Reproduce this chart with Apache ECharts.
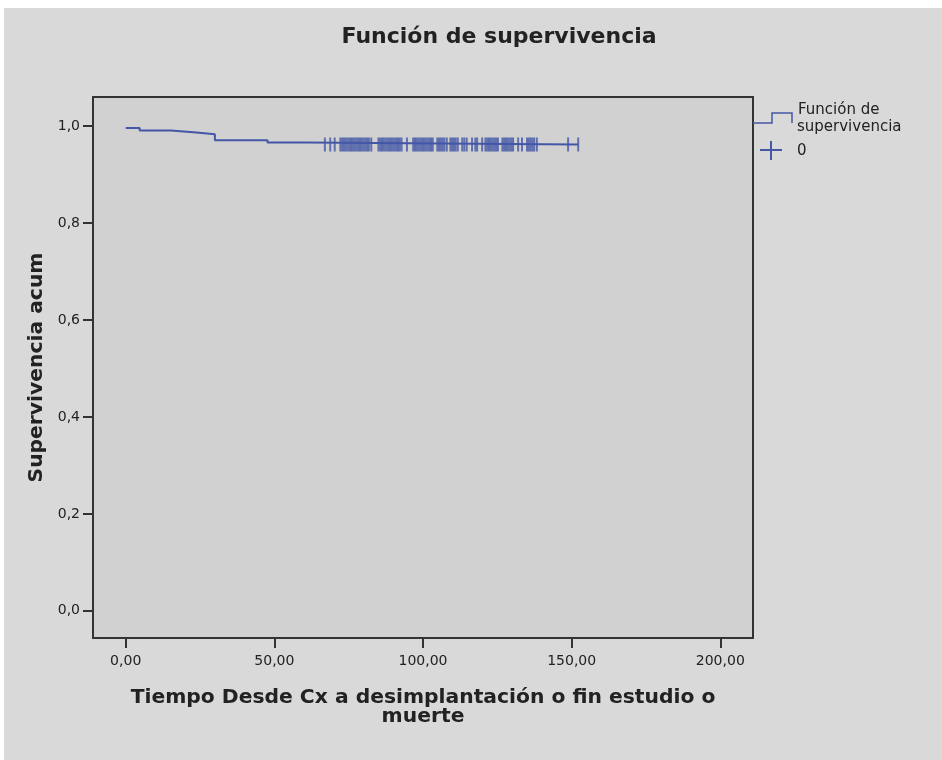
<!DOCTYPE html>
<html>
<head>
<meta charset="utf-8">
<script src="https://cdn.jsdelivr.net/npm/echarts@6/dist/echarts.min.js"></script>
<style>
html,body{margin:0;padding:0;background:#fff;}
#bg{position:absolute;left:4px;top:8px;width:938px;height:752px;background:#d9d9d9;}
#chart{position:absolute;left:0;top:0;width:942px;height:760px;}
</style>
</head>
<body>
<div id="bg"></div>
<div id="chart"></div>
<script>
// Kaplan-Meier step curve: event times and survival after each step
const stepTimes = [0, 4.7, 15.2, 23.8, 30.0, 47.7, 60.8, 152.2];
const stepSurv  = [0.996, 0.991, 0.987, 0.983, 0.971, 0.966, 0.962, 0.962];
// censored observations (times)
const censorTimes = [67.0, 68.8, 70.3,
  72.2, 72.8, 73.4, 74.0, 74.6, 75.2, 75.8, 76.4, 77.0, 77.6, 78.2, 78.8, 79.4, 80.0, 80.6, 81.2, 81.8, 82.6,
  85.0, 85.6, 86.2, 86.8, 87.4, 88.0, 88.6, 89.2, 89.8, 90.4, 91.0, 91.6, 92.2, 92.8,
  94.6,
  96.7, 97.3, 97.9, 98.5, 99.1, 99.7, 100.3, 100.9, 101.5, 102.1, 102.7, 103.3,
  104.8, 105.4, 106.0, 106.6, 107.2, 108.0,
  109.2, 109.8, 110.4, 111.0, 111.7,
  113.2, 113.9, 114.7,
  116.5,
  117.6, 118.2,
  119.9,
  121.0, 121.6, 122.2, 122.8, 123.4, 124.0, 124.6, 125.2,
  126.7, 127.3, 127.9, 128.5, 129.1, 129.7, 130.3,
  132.0,
  133.3,
  135.0, 135.6, 136.2, 136.8, 137.4, 138.3,
  148.8, 152.2];
const censorSurv = 0.962;
const xTicks = [0, 50, 100, 150, 200];
const yTicks = [0, 0.2, 0.4, 0.6, 0.8, 1.0];

const lineColor = '#4457a6';
const chart = echarts.init(document.getElementById('chart'));
const lineData = stepTimes.map((t, i) => [t, stepSurv[i]]);
const censorData = censorTimes.map(t => [t, censorSurv]);

chart.setOption({
  backgroundColor: 'transparent',
  animation: false,
  grid: {left: 93, right: 189, top: 97, bottom: 122, show: true,
    backgroundColor: '#d1d1d1', borderColor: '#333', borderWidth: 2},
  xAxis: {
    type: 'value', min: -11, max: 211,
    axisLine: {show: false, onZero: false},
    splitLine: {show: false},
    axisTick: {show: true, length: 10, customValues: xTicks, lineStyle: {color: '#333', width: 2}},
    axisLabel: {customValues: xTicks, margin: 16, color: '#222', fontFamily: 'DejaVu Sans', fontSize: 14,
      formatter: v => v.toFixed(2).replace('.', ',')},
    name: 'Tiempo Desde Cx a desimplantación o fin estudio o\nmuerte',
    nameLocation: 'middle', nameGap: 50,
    nameTextStyle: {fontFamily: 'DejaVu Sans', fontWeight: 'bold', fontSize: 20.3, color: '#222', lineHeight: 19}
  },
  yAxis: {
    type: 'value', min: -0.056, max: 1.06,
    axisLine: {show: false, onZero: false},
    splitLine: {show: false},
    axisTick: {show: true, length: 10, customValues: yTicks, lineStyle: {color: '#333', width: 2}},
    axisLabel: {customValues: yTicks, margin: 13, color: '#222', fontFamily: 'DejaVu Sans', fontSize: 14,
      formatter: v => v.toFixed(1).replace('.', ',')},
    name: 'Supervivencia acum',
    nameLocation: 'middle', nameGap: 42,
    nameTextStyle: {fontFamily: 'DejaVu Sans', fontWeight: 'bold', fontSize: 20.3, color: '#222'}
  },
  series: [
    {type: 'line', data: lineData, step: 'end', showSymbol: false,
      lineStyle: {color: lineColor, width: 2}},
    {type: 'scatter', data: censorData, symbol: 'rect', symbolSize: [2, 14],
      itemStyle: {color: lineColor}}
  ],
  graphic: [
    {type: 'text', x: 499, y: 37, style: {text: 'Función de supervivencia', fill: '#222',
      font: 'bold 22px "DejaVu Sans"', textAlign: 'center', textVerticalAlign: 'middle'}},
    {type: 'polyline', shape: {points: [[753, 123], [772, 123], [772, 113], [792, 113], [792, 123]]},
      style: {stroke: lineColor, lineWidth: 1.5, fill: null}},
    {type: 'text', x: 798, y: 110, style: {text: 'Función de', fill: '#222',
      font: '15px "DejaVu Sans"', textVerticalAlign: 'middle'}},
    {type: 'text', x: 797, y: 127, style: {text: 'supervivencia', fill: '#222',
      font: '15px "DejaVu Sans"', textVerticalAlign: 'middle'}},
    {type: 'line', shape: {x1: 760, y1: 150, x2: 782, y2: 150}, style: {stroke: lineColor, lineWidth: 2}},
    {type: 'line', shape: {x1: 771, y1: 141, x2: 771, y2: 160}, style: {stroke: lineColor, lineWidth: 2}},
    {type: 'text', x: 797, y: 151, style: {text: '0', fill: '#222',
      font: '15px "DejaVu Sans"', textVerticalAlign: 'middle'}}
  ]
});
</script>
</body>
</html>
